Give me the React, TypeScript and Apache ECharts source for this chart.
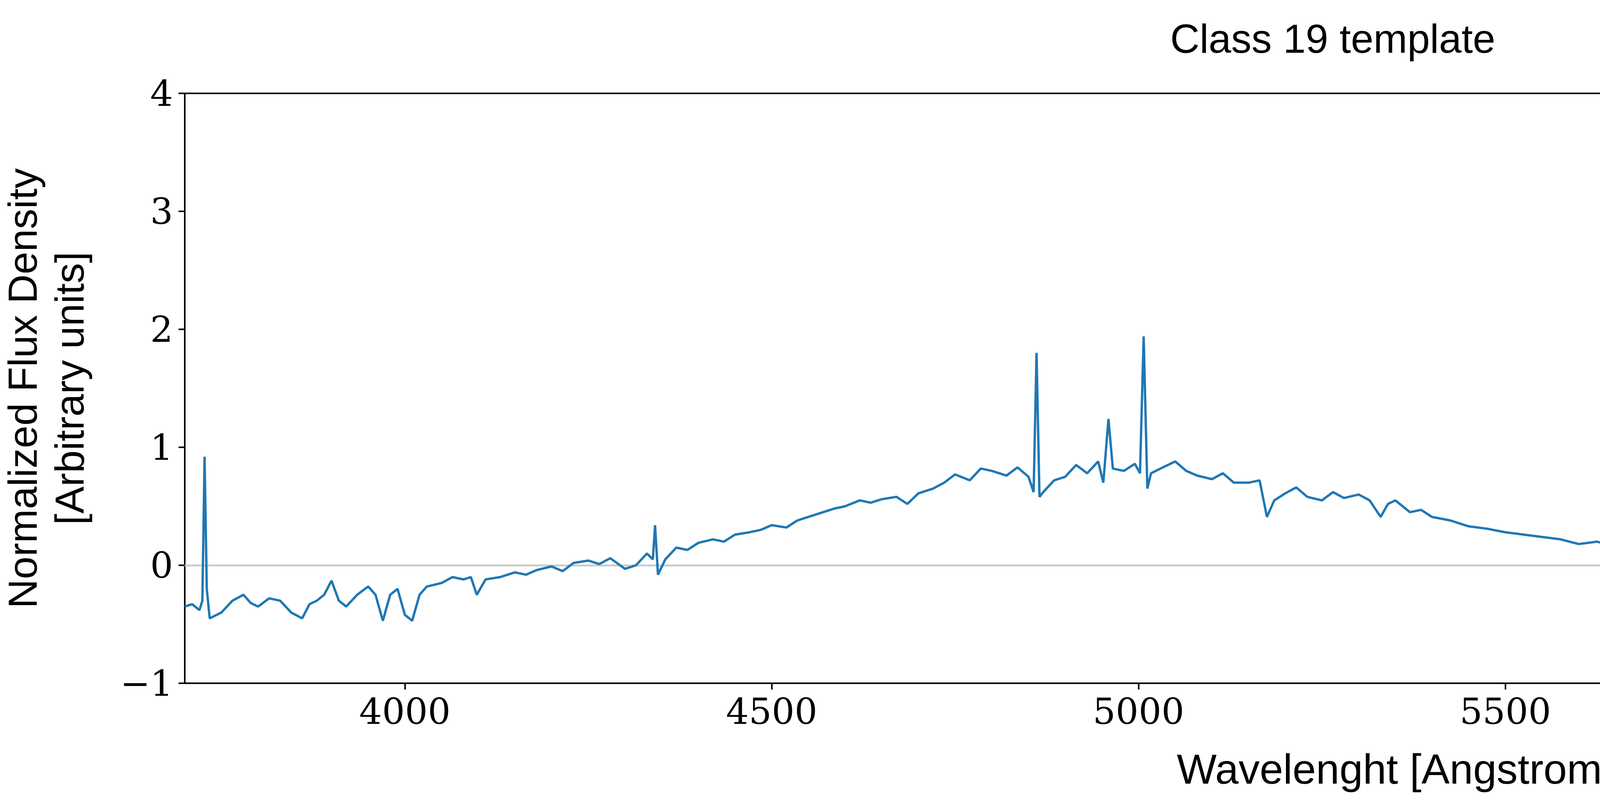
import React, { useEffect, useRef } from 'react';
import * as echarts from 'echarts';

// Wavelength [Angstrom] and normalized flux
const wavelengths = [
  3700, 3710, 3720, 3724, 3727, 3730, 3734, 3750, 3765, 3780, 3790, 3800, 3815, 3830, 3845, 3860, 3870, 3880,
  3890, 3900, 3910, 3920, 3935, 3950, 3960, 3970, 3980, 3990, 4000, 4010, 4020, 4030, 4050, 4065, 4080, 4090,
  4098, 4110, 4130, 4150, 4165, 4180, 4200, 4215, 4230, 4250, 4265, 4280, 4300, 4315, 4330, 4338, 4341, 4345,
  4355, 4370, 4385, 4400, 4420, 4435, 4450, 4470, 4485, 4500, 4520, 4535, 4550, 4570, 4585, 4600, 4620, 4635,
  4650, 4670, 4685, 4700, 4720, 4735, 4750, 4770, 4785, 4800, 4820, 4835, 4850, 4857, 4861, 4865, 4870, 4885,
  4900, 4915, 4930, 4945, 4952, 4959, 4965, 4980, 4995, 5002, 5007, 5012, 5017, 5030, 5050, 5065, 5080, 5100,
  5115, 5130, 5150, 5165, 5175, 5185, 5200, 5215, 5230, 5250, 5265, 5280, 5300, 5315, 5330, 5340, 5350, 5370,
  5385, 5400, 5425, 5450, 5475, 5500, 5525, 5550, 5575, 5600, 5625, 5650, 5675, 5700, 5725, 5750, 5775, 5800,
  5825, 5850, 5862, 5870, 5880, 5890, 5900, 5910, 5930, 5960, 6000, 6030, 6060, 6100, 6130, 6160, 6200, 6230,
  6260, 6285, 6295, 6300, 6310, 6340, 6370, 6400, 6430, 6460, 6500, 6520, 6540, 6548, 6553, 6558, 6563, 6568,
  6573, 6578, 6584, 6590, 6596, 6620, 6650, 6680, 6700, 6710, 6714, 6717, 6720, 6724, 6728, 6731, 6735, 6740,
  6760, 6800, 6830, 6860, 6900, 6930, 6950, 6970, 6985, 7000,
];
const fluxes = [
  -0.35, -0.33, -0.38, -0.3, 0.92, -0.2, -0.45, -0.4, -0.3, -0.25, -0.32, -0.35, -0.28, -0.3, -0.4, -0.45, -0.33, -0.3,
  -0.25, -0.13, -0.3, -0.35, -0.25, -0.18, -0.25, -0.47, -0.25, -0.2, -0.42, -0.47, -0.25, -0.18, -0.15, -0.1, -0.12, -0.1,
  -0.25, -0.12, -0.1, -0.06, -0.08, -0.04, -0.01, -0.05, 0.02, 0.04, 0.01, 0.06, -0.03, 0.0, 0.1, 0.05, 0.34, -0.08,
  0.05, 0.15, 0.13, 0.19, 0.22, 0.2, 0.26, 0.28, 0.3, 0.34, 0.32, 0.38, 0.41, 0.45, 0.48, 0.5, 0.55, 0.53,
  0.56, 0.58, 0.52, 0.61, 0.65, 0.7, 0.77, 0.72, 0.82, 0.8, 0.76, 0.83, 0.75, 0.62, 1.80, 0.58, 0.62, 0.72,
  0.75, 0.85, 0.78, 0.88, 0.7, 1.24, 0.82, 0.8, 0.86, 0.78, 1.94, 0.65, 0.78, 0.82, 0.88, 0.8, 0.76, 0.73,
  0.78, 0.7, 0.7, 0.72, 0.41, 0.55, 0.61, 0.66, 0.58, 0.55, 0.62, 0.57, 0.6, 0.55, 0.41, 0.52, 0.55, 0.45,
  0.47, 0.41, 0.38, 0.33, 0.31, 0.28, 0.26, 0.24, 0.22, 0.18, 0.2, 0.16, 0.13, 0.09, 0.11, 0.07, 0.06, 0.04,
  0.03, -0.01, 0.0, 0.07, -0.02, -0.14, -0.06, -0.03, -0.05, -0.07, -0.09, -0.1, -0.12, -0.15, -0.14, -0.17, -0.2, -0.18,
  -0.2, -0.2, -0.17, -0.13, -0.19, -0.2, -0.21, -0.23, -0.22, -0.24, -0.26, -0.22, -0.26, -0.02, -0.3, 0.5, 1.95, 0.4,
  -0.3, -0.26, 0.39, -0.2, -0.25, -0.22, -0.22, -0.23, -0.22, -0.2, -0.1, 0.29, -0.15, -0.22, -0.05, 0.14, -0.1, -0.22,
  -0.21, -0.2, -0.19, -0.17, -0.15, -0.13, -0.1, -0.11, -0.08, -0.09,
];
const xTicks = [4000, 4500, 5000, 5500, 6000, 6500, 7000];

const serif = 'DejaVu Serif';
const sans = 'Liberation Sans';

export default function App() {
  const ref = useRef<HTMLDivElement>(null);

  useEffect(() => {
    if (!ref.current) return;
    const chart = echarts.init(ref.current, undefined, { renderer: 'svg' });
    const minus = (v: number) => String(v).replace('-', '\u2212');
    chart.setOption({
      animation: false,
      backgroundColor: '#ffffff',
      title: {
        text: 'Class 19 template',
        left: 'center',
        top: 42,
        textStyle: { fontFamily: sans, fontSize: 104, fontWeight: 'normal', color: '#000' },
      },
      grid: {
        left: 473, right: 153, top: 239, bottom: 327,
        outerBoundsMode: 'none',
        containLabel: false,
        show: true, borderColor: '#000', borderWidth: 4, backgroundColor: 'transparent',
      },
      xAxis: {
        type: 'value',
        min: 3700,
        max: 7000,
        name: 'Wavelenght [Angstrom]',
        nameLocation: 'middle',
        nameGap: 165,
        nameTextStyle: { fontFamily: sans, fontSize: 108, color: '#000' },
        axisLine: { show: true, onZero: false, lineStyle: { color: '#000', width: 4 } },
        axisTick: { show: true, length: 16, lineStyle: { color: '#000', width: 4 }, customValues: xTicks },
        axisLabel: {
          fontFamily: serif, fontSize: 92, color: '#000', margin: 26, customValues: xTicks,
          formatter: (v: number) => String(v),
        },
        splitLine: { show: false },
      },
      yAxis: {
        type: 'value',
        min: -1,
        max: 4,
        interval: 1,
        name: 'Normalized Flux Density\n[Arbitrary units]',
        nameLocation: 'middle',
        nameGap: 235,
        nameTextStyle: { fontFamily: sans, fontSize: 104, color: '#000', lineHeight: 120 },
        axisLine: { show: true, lineStyle: { color: '#000', width: 4 } },
        axisTick: { show: true, length: 16, lineStyle: { color: '#000', width: 4 } },
        axisLabel: { fontFamily: serif, fontSize: 92, color: '#000', margin: 30, formatter: minus },
        splitLine: { show: false },
      },
      series: [
        {
          type: 'line',
          data: wavelengths.map((w, i) => [w, fluxes[i]]),
          showSymbol: false,
          lineStyle: { color: '#1f77b4', width: 6 },
          z: 3,
          markLine: {
            silent: true,
            symbol: 'none',
            label: { show: false },
            lineStyle: { color: '#cccccc', width: 5, type: 'solid' },
            data: [{ yAxis: 0 }],
            z: 1,
          },
        },
      ],
    });
    return () => chart.dispose();
  }, []);

  return <div ref={ref} style={{ position: 'absolute', left: 0, top: 0, width: 6824, height: 2076 }} />;
}
